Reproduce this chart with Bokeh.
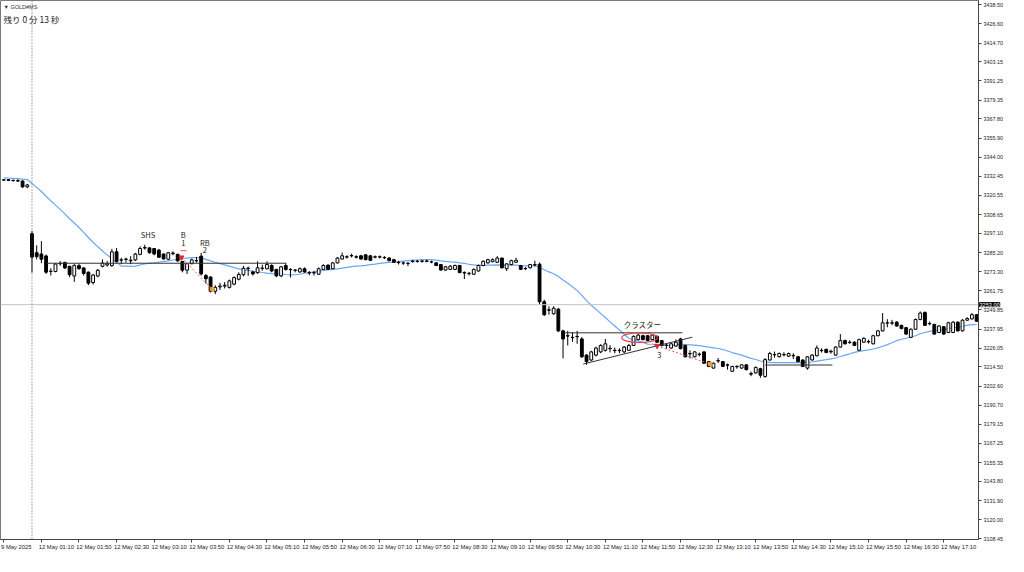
import numpy as np
from bokeh.plotting import figure
from bokeh.models import Range1d, FixedTicker, PrintfTickFormatter, Span, Label, ColumnDataSource
from bokeh.embed import file_html
from bokeh.resources import INLINE
from bokeh.core.properties import value

# ---------------- data (5-minute bars, GOLD#MS) ----------------
opens = [3330.0, 3330.2, 3329.8, 3329.6, 3329.4, 3325.8, 3296.8, 3285.1, 3284.3, 3283.1,
         3273.5, 3273.5, 3278.3, 3279.1, 3276.7, 3270.7, 3277.1, 3275.7, 3273.1, 3266.7,
         3270.7, 3276.7, 3277.5, 3277.1, 3285.7, 3280.5, 3281.0, 3280.5, 3280.7, 3284.1,
         3288.0, 3288.1, 3287.7, 3286.7, 3284.3, 3281.1, 3284.5, 3284.1, 3279.7, 3274.3,
         3278.3, 3280.1, 3283.0, 3271.0, 3270.1, 3261.3, 3264.0, 3264.5, 3263.7, 3265.7,
         3268.7, 3271.5, 3275.2, 3273.2, 3272.8, 3275.4, 3275.2, 3277.2, 3274.8, 3270.8,
         3277.2, 3274.6, 3274.2, 3273.2, 3275.2, 3272.8, 3272.6, 3271.8, 3274.8, 3277.4,
         3275.2, 3278.8, 3281.2, 3282.4, 3283.2, 3282.6, 3283.2, 3283.8, 3283.2, 3282.4,
         3282.4, 3282.2, 3281.8, 3280.8, 3279.2, 3278.8, 3278.4, 3279.6, 3279.8, 3279.8,
         3280.0, 3279.4, 3278.8, 3277.8, 3274.4, 3274.8, 3274.8, 3277.2, 3272.8, 3272.2,
         3271.8, 3273.8, 3277.2, 3278.8, 3279.6, 3279.2, 3281.8, 3275.2, 3277.8, 3279.2,
         3277.2, 3275.2, 3275.8, 3277.6, 3278.0, 3254.8, 3249.8, 3247.4, 3250.2, 3236.8,
         3233.8, 3232.8, 3233.4, 3231.8, 3221.8, 3218.8, 3221.8, 3223.8, 3224.8, 3225.8,
         3224.8, 3224.6, 3223.8, 3224.8, 3227.8, 3231.4, 3233.8, 3233.8, 3231.4, 3233.4,
         3230.8, 3227.8, 3226.2, 3227.4, 3231.8, 3227.8, 3222.8, 3220.8, 3222.2, 3223.8,
         3217.8, 3213.8, 3218.2, 3217.8, 3215.8, 3211.8, 3214.6, 3213.8, 3215.8, 3210.0,
         3210.8, 3213.4, 3208.6, 3218.8, 3222.0, 3220.8, 3222.0, 3221.2, 3221.6, 3220.8,
         3218.8, 3213.8, 3218.8, 3221.4, 3224.6, 3225.4, 3223.8, 3221.8, 3226.8, 3230.8,
         3229.6, 3229.8, 3224.8, 3229.8, 3230.0, 3228.8, 3233.8, 3236.8, 3241.6, 3241.6,
         3242.2, 3240.2, 3238.8, 3232.8, 3237.8, 3243.8, 3248.2, 3241.2, 3240.8, 3235.8,
         3239.4, 3235.8, 3235.8, 3242.2, 3236.8, 3243.4, 3244.2, 3246.8]
highs = [3330.6, 3330.6, 3330.4, 3330.5, 3329.8, 3327.6, 3298.5, 3289.7, 3292.3, 3284.0,
         3275.5, 3278.7, 3280.0, 3279.5, 3277.0, 3278.0, 3278.3, 3276.2, 3273.5, 3272.0,
         3275.0, 3281.0, 3280.0, 3287.5, 3288.0, 3282.0, 3282.0, 3283.0, 3285.0, 3289.0,
         3290.0, 3288.5, 3288.0, 3287.5, 3284.6, 3285.5, 3286.0, 3284.5, 3280.1, 3279.0,
         3281.5, 3282.5, 3285.0, 3272.0, 3270.5, 3265.0, 3266.5, 3267.0, 3268.5, 3270.5,
         3273.0, 3277.0, 3276.5, 3274.0, 3279.8, 3277.8, 3279.8, 3278.0, 3275.0, 3277.0,
         3278.8, 3275.5, 3275.0, 3276.0, 3276.0, 3273.8, 3274.0, 3276.0, 3278.0, 3278.0,
         3279.5, 3282.5, 3285.2, 3283.5, 3284.5, 3283.5, 3283.8, 3284.2, 3283.6, 3283.4,
         3283.4, 3283.0, 3282.4, 3281.2, 3280.2, 3279.6, 3279.4, 3280.6, 3280.6, 3280.6,
         3280.8, 3280.2, 3279.4, 3278.2, 3277.0, 3277.4, 3277.8, 3277.6, 3273.6, 3273.2,
         3275.4, 3277.8, 3280.4, 3281.4, 3281.6, 3283.0, 3282.2, 3278.6, 3280.8, 3282.0,
         3277.6, 3276.2, 3278.2, 3280.2, 3279.0, 3256.0, 3252.0, 3252.0, 3251.0, 3237.5,
         3236.8, 3236.0, 3236.8, 3233.0, 3222.5, 3224.5, 3227.0, 3228.5, 3231.8, 3228.0,
         3226.5, 3226.0, 3227.5, 3228.8, 3234.0, 3235.0, 3234.5, 3234.2, 3234.6, 3234.0,
         3231.2, 3229.0, 3229.4, 3231.5, 3232.5, 3228.2, 3224.8, 3224.2, 3223.4, 3224.2,
         3218.2, 3217.2, 3220.0, 3218.2, 3216.6, 3215.2, 3215.6, 3216.2, 3216.2, 3211.6,
         3214.8, 3214.0, 3220.0, 3223.8, 3224.0, 3223.4, 3223.6, 3223.4, 3223.0, 3221.4,
         3219.2, 3221.2, 3222.4, 3227.8, 3226.0, 3225.8, 3225.2, 3227.4, 3234.8, 3231.4,
         3231.0, 3230.4, 3232.0, 3232.8, 3231.4, 3234.4, 3237.4, 3247.8, 3244.0, 3243.6,
         3242.8, 3240.6, 3239.2, 3238.4, 3244.4, 3248.8, 3248.8, 3242.6, 3241.2, 3240.4,
         3239.8, 3242.4, 3242.8, 3242.6, 3244.0, 3245.2, 3247.8, 3247.2]
lows = [3329.6, 3329.4, 3329.2, 3328.8, 3325.2, 3325.0, 3272.8, 3281.0, 3278.7, 3272.0,
        3271.0, 3273.0, 3277.0, 3275.0, 3270.0, 3267.1, 3274.5, 3271.0, 3265.0, 3265.5,
        3270.0, 3276.0, 3276.5, 3276.5, 3279.0, 3278.0, 3279.0, 3278.0, 3280.0, 3283.5,
        3287.0, 3284.5, 3283.5, 3282.0, 3280.8, 3280.5, 3283.5, 3279.5, 3273.0, 3272.0,
        3278.0, 3279.0, 3271.0, 3266.0, 3260.5, 3259.5, 3262.0, 3263.0, 3263.0, 3265.0,
        3268.0, 3270.5, 3270.8, 3271.0, 3272.0, 3274.0, 3274.8, 3273.0, 3270.0, 3270.0,
        3274.0, 3269.8, 3273.0, 3272.8, 3272.8, 3271.2, 3271.0, 3271.5, 3274.5, 3274.5,
        3275.0, 3278.5, 3281.0, 3281.5, 3282.2, 3281.5, 3280.8, 3280.5, 3280.0, 3281.6,
        3281.6, 3281.2, 3279.8, 3278.8, 3277.8, 3277.6, 3276.8, 3279.0, 3279.0, 3279.0,
        3279.2, 3278.6, 3276.8, 3274.0, 3274.0, 3274.4, 3274.4, 3272.4, 3268.8, 3271.0,
        3271.4, 3273.4, 3276.8, 3278.4, 3279.2, 3278.8, 3275.4, 3273.8, 3277.4, 3278.8,
        3274.4, 3274.4, 3275.4, 3276.5, 3253.0, 3246.0, 3246.8, 3246.8, 3236.0, 3219.8,
        3227.8, 3230.0, 3228.8, 3220.0, 3215.8, 3218.0, 3221.0, 3223.0, 3224.0, 3223.5,
        3223.0, 3223.0, 3223.0, 3224.5, 3227.5, 3231.0, 3231.0, 3230.5, 3231.0, 3229.4,
        3227.2, 3225.8, 3225.8, 3227.0, 3225.4, 3220.4, 3219.8, 3220.4, 3221.0, 3216.4,
        3214.4, 3213.4, 3217.0, 3214.4, 3212.8, 3211.4, 3213.4, 3213.4, 3212.4, 3208.8,
        3210.4, 3207.8, 3207.8, 3218.4, 3220.2, 3220.4, 3221.0, 3220.8, 3219.4, 3217.4,
        3214.4, 3212.8, 3218.4, 3221.0, 3223.4, 3223.0, 3222.8, 3221.4, 3226.4, 3228.4,
        3228.6, 3227.4, 3224.4, 3229.4, 3229.0, 3228.4, 3233.4, 3236.4, 3239.0, 3240.4,
        3239.4, 3237.8, 3234.4, 3232.4, 3237.4, 3243.4, 3239.8, 3240.2, 3234.4, 3235.4,
        3234.4, 3235.4, 3235.4, 3236.4, 3236.4, 3243.0, 3243.8, 3242.4]
closes = [3330.2, 3329.8, 3329.6, 3329.4, 3325.8, 3327.0, 3282.4, 3282.7, 3281.1, 3273.1,
          3273.7, 3278.1, 3278.5, 3275.7, 3271.5, 3277.3, 3275.3, 3272.3, 3266.3, 3271.3,
          3274.3, 3278.7, 3278.3, 3285.7, 3279.7, 3280.7, 3281.2, 3280.1, 3284.3, 3287.7,
          3288.3, 3285.1, 3284.3, 3282.3, 3281.3, 3285.1, 3284.9, 3280.1, 3274.3, 3278.3,
          3280.7, 3280.3, 3272.0, 3269.0, 3261.3, 3263.7, 3264.5, 3265.0, 3267.7, 3269.7,
          3271.7, 3275.5, 3275.6, 3272.0, 3275.8, 3275.6, 3277.8, 3273.8, 3270.8, 3276.4,
          3274.8, 3274.8, 3274.4, 3275.2, 3273.2, 3272.6, 3272.8, 3275.2, 3277.2, 3274.8,
          3278.8, 3281.8, 3283.2, 3282.6, 3283.4, 3282.4, 3281.2, 3280.8, 3280.4, 3282.6,
          3282.6, 3282.0, 3280.2, 3279.2, 3279.0, 3278.8, 3278.6, 3280.0, 3279.8, 3280.0,
          3279.8, 3279.4, 3277.2, 3274.4, 3276.4, 3276.8, 3277.2, 3272.8, 3272.6, 3272.4,
          3274.8, 3277.2, 3279.8, 3280.8, 3280.8, 3281.8, 3275.8, 3278.2, 3280.2, 3280.4,
          3274.8, 3275.4, 3277.8, 3277.8, 3254.8, 3246.8, 3249.6, 3250.8, 3236.8, 3231.8,
          3233.6, 3232.6, 3233.2, 3220.8, 3217.8, 3223.8, 3226.2, 3227.8, 3228.8, 3226.0,
          3224.6, 3224.8, 3226.8, 3227.8, 3233.4, 3234.2, 3231.4, 3230.8, 3234.2, 3229.8,
          3227.8, 3228.0, 3228.8, 3229.8, 3225.8, 3220.8, 3222.6, 3223.8, 3222.4, 3216.8,
          3214.8, 3216.8, 3218.4, 3214.8, 3215.6, 3214.8, 3214.8, 3215.8, 3212.8, 3210.4,
          3214.2, 3209.4, 3219.0, 3222.8, 3222.2, 3222.8, 3222.2, 3222.8, 3221.4, 3217.8,
          3214.8, 3220.8, 3221.8, 3226.2, 3224.8, 3223.4, 3224.2, 3226.8, 3230.8, 3228.8,
          3229.8, 3227.8, 3231.4, 3232.2, 3230.2, 3233.8, 3236.8, 3241.8, 3241.8, 3241.8,
          3239.8, 3238.2, 3234.8, 3237.8, 3243.8, 3247.8, 3240.2, 3241.4, 3234.8, 3239.8,
          3234.8, 3241.8, 3242.2, 3236.8, 3243.4, 3244.4, 3246.8, 3242.8]
# closes of the 19 bars before the first visible one (for the 20-period moving average)
prior_closes = [3333.4, 3332.8, 3331.9, 3332.5, 3331.6, 3330.8, 3331.4, 3332.2, 3331.0, 3330.6,
                3331.3, 3331.8, 3330.9, 3331.2, 3330.5, 3330.9, 3331.4, 3330.7, 3330.3]
ma_period = 20

x_tick_idx = list(range(0, 201, 8))
x_tick_labels = ["9 May 2025", "12 May 01:10", "12 May 01:50", "12 May 02:30", "12 May 03:10",
                 "12 May 03:50", "12 May 04:30", "12 May 05:10", "12 May 05:50", "12 May 06:30",
                 "12 May 07:10", "12 May 07:50", "12 May 08:30", "12 May 09:10", "12 May 09:50",
                 "12 May 10:30", "12 May 11:10", "12 May 11:50", "12 May 12:30", "12 May 13:10",
                 "12 May 13:50", "12 May 14:30", "12 May 15:10", "12 May 15:50", "12 May 16:30",
                 "12 May 17:10"]
y_ticks = [3438.50, 3426.60, 3414.70, 3403.15, 3391.25, 3379.35, 3367.80, 3355.90, 3344.00,
           3332.45, 3320.55, 3308.65, 3297.10, 3285.20, 3273.30, 3261.75, 3249.85, 3237.95,
           3226.05, 3214.50, 3202.60, 3190.70, 3179.15, 3167.25, 3155.35, 3143.80, 3131.90,
           3120.00, 3108.45]
current_price = 3253.00
session_start_idx = 6

# annotation objects (bar index, price)
shs_neckline_x = [9.1, 60.0];   shs_neckline_y = [3278.6, 3278.6]
right_base_x = [162.0, 176.3];  right_base_y = [3215.7, 3215.7]
tri_upper_x = [119.3, 144.4];   tri_upper_y = [3235.6, 3235.6]
tri_lower_x = [123.3, 146.5];   tri_lower_y = [3216.3, 3232.9]
red_path1_x = [37.8, 44.3];     red_path1_y = [3282.2, 3262.6]
red_path2_x = [139.0, 150.3];   red_path2_y = [3227.5, 3216.3]
b1_dash_x = [37.6, 38.9];       b1_dash_y = [3286.4, 3286.4]
cluster_center = (135.3, 3232.6); cluster_size = (7.6, 6.0)
note_text = ["SHS", "B", "1", "RB", "2", "クラスター", "3"]
note_x = [30.7, 38.2, 38.2, 42.8, 42.8, 135.9, 139.5]
note_y = [3296.2, 3296.2, 3291.3, 3291.6, 3286.9, 3240.8, 3221.6]

# ---------------- derived ----------------
idx = np.arange(len(closes))
o = np.array(opens); c = np.array(closes); h = np.array(highs); l = np.array(lows)
allc = np.array(prior_closes + closes)
ma = np.convolve(allc, np.ones(ma_period) / ma_period, mode="valid")[-len(closes):]

up = c >= o
src = ColumnDataSource(dict(
    x=idx, top=np.maximum(o, c), bottom=np.minimum(o, c), high=h, low=l,
    fill=np.where(up, "white", "black")))

FW, FH = 978, 539
X0, X1 = -0.7, 207.4
Y0, Y1 = 3107.85, 3441.0

p = figure(frame_width=FW, frame_height=FH, output_backend="svg", toolbar_location=None,
           x_range=Range1d(X0, X1), y_range=Range1d(Y0, Y1),
           y_axis_location="right", min_border=0, min_border_bottom=14, min_border_right=28,
           background_fill_color="white", border_fill_color="white")
p.outline_line_color = "#7a7a7a"
p.grid.visible = False

FONT = "Liberation Sans"
LABEL_PX = 5.8
# time labels: the terminal draws them starting at the tick, so each label is centred
# half its width to the right of its tick; the tick marks themselves stay on the bar
bar_px = FW / (X1 - X0)
label_pos, overrides = [], {}
for k, lab in zip(x_tick_idx, x_tick_labels):
    half_w_bars = 0.5 * len(lab) * 0.43 * LABEL_PX / bar_px
    pos = round(k + half_w_bars, 2)
    if pos == int(pos):
        pos += 0.01
    label_pos.append(pos)
    overrides[pos] = lab
p.xaxis.ticker = FixedTicker(ticks=label_pos, minor_ticks=x_tick_idx)
p.xaxis.major_label_overrides = overrides
p.xaxis.major_tick_out = 0
p.xaxis.major_tick_in = 0
p.xaxis.minor_tick_out = 3
p.xaxis.minor_tick_in = 0
p.xaxis.minor_tick_line_color = "#444444"
p.xaxis.major_label_standoff = 1

p.yaxis.ticker = FixedTicker(ticks=y_ticks)
p.yaxis.formatter = PrintfTickFormatter(format="%.2f")
p.yaxis.major_tick_out = 3
p.yaxis.major_tick_in = 0
p.yaxis.minor_tick_out = 0
p.yaxis.minor_tick_in = 0
p.yaxis.major_label_standoff = 2
for ax in (p.xaxis, p.yaxis):
    ax.major_label_text_font = FONT
    ax.major_label_text_font_size = "%.1fpx" % LABEL_PX
    ax.major_label_text_color = "#222222"
    ax.axis_line_color = "#444444"
    ax.major_tick_line_color = "#444444"
p.yaxis.major_label_text_font_size = "5.4px"

# reference lines
p.add_layout(Span(location=current_price, dimension="width", line_color="#c4c4c4", line_width=1))
p.add_layout(Span(location=session_start_idx, dimension="height", line_color="#555555",
                  line_width=1, line_dash="1 2"))

# moving average
p.line(idx, ma, line_color="#6aa6f4", line_width=1.2)

# candles
p.segment(x0="x", y0="high", x1="x", y1="low", source=src, line_color="black", line_width=1)
p.vbar(x="x", top="top", bottom="bottom", width=0.6, source=src,
       fill_color="fill", line_color="black", line_width=1)

# chart pattern annotations
p.line(shs_neckline_x, shs_neckline_y, line_color="#333333", line_width=1)
p.line(right_base_x, right_base_y, line_color="#333333", line_width=1)
p.line(tri_upper_x, tri_upper_y, line_color="#333333", line_width=1)
p.line(tri_lower_x, tri_lower_y, line_color="#333333", line_width=1)
p.line(red_path1_x, red_path1_y, line_color="#ee5a5a", line_width=1, line_dash="2 2")
p.line(red_path2_x, red_path2_y, line_color="#ee5a5a", line_width=1, line_dash="2 2")
p.line(b1_dash_x, b1_dash_y, line_color="#ee5a5a", line_width=1)
p.scatter([red_path1_x[0], red_path2_x[0]], [red_path1_y[0], red_path2_y[0]],
          marker="triangle", size=5, color="#e8262a", angle=3.1416)
p.scatter([red_path1_x[1], red_path2_x[1]], [red_path1_y[1], red_path2_y[1]],
          marker="square", size=3.5, color="#f0a030")
p.ellipse(x=[cluster_center[0]], y=[cluster_center[1]], width=cluster_size[0],
          height=cluster_size[1], fill_color=None, line_color="#e84040", line_width=1.2)
p.text(x=note_x, y=note_y, text=note_text, text_font=value("Noto Sans CJK JP"),
       text_font_size="7.5px", text_color="#222222", text_align="center",
       text_baseline="middle")

# price box on the price axis (kept in a side panel so that it is drawn outside the frame)
price_sy = (Y1 - current_price) / (Y1 - Y0) * FH
p.add_layout(Label(x=FW + 1, y=price_sy, x_units="canvas", y_units="canvas",
                   text="%.2f" % current_price,
                   text_font=FONT, text_font_size="5.6px", text_color="white",
                   text_baseline="middle", text_align="left",
                   background_fill_color="black", border_line_color="black"), "below")

# top-left header
p.add_layout(Label(x=3, y=6, x_units="canvas", y_units="canvas", text="▼ GOLD#MS",
                   text_font=FONT, text_font_size="5.5px", text_color="#333333",
                   text_baseline="middle"))
p.add_layout(Label(x=3, y=18, x_units="canvas", y_units="canvas", text="残り 0 分 13 秒",
                   text_font="Noto Sans CJK JP", text_font_size="8.5px", text_color="#222222",
                   text_baseline="middle"))

open("out.html", "w").write(file_html(p, INLINE))
